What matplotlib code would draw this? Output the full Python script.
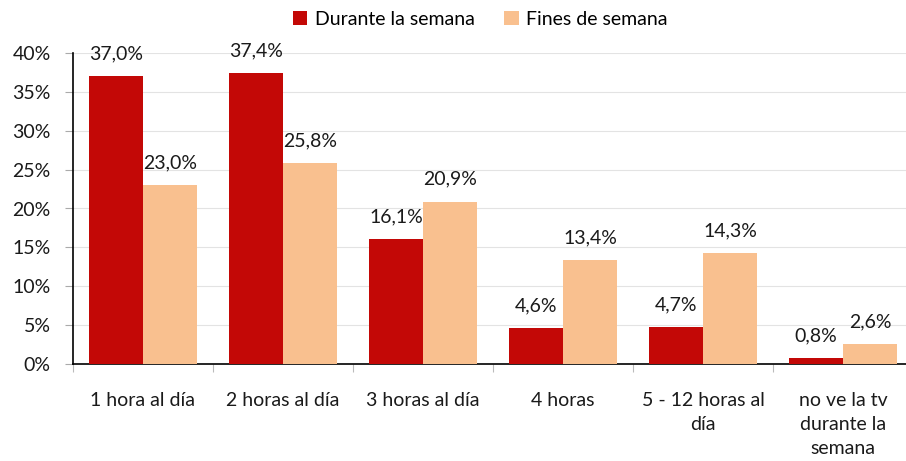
import numpy as np
import matplotlib
matplotlib.use("Agg")
import matplotlib.pyplot as plt

plt.rcParams['font.family'] = ['Lato', 'DejaVu Sans']

categories = ["1 hora al día", "2 horas al día", "3 horas al día", "4 horas",
              "5 - 12 horas al\ndía", "no ve la tv\ndurante la\nsemana"]
semana = [37.0, 37.4, 16.1, 4.6, 4.7, 0.8]
finde = [23.0, 25.8, 20.9, 13.4, 14.3, 2.6]
series_names = ["Durante la semana", "Fines de semana"]

RED = "#c30806"
PEACH = "#f9c08f"
FS = 14

fig = plt.figure(figsize=(9.06, 4.61), dpi=100)
ax = fig.add_axes([73 / 906, 97 / 461, 840 / 906, 311 / 461])

x = np.arange(len(categories))
w = 0.386
b1 = ax.bar(x - w / 2, semana, w, color=RED, label=series_names[0], zorder=3)
b2 = ax.bar(x + w / 2, finde, w, color=PEACH, label=series_names[1], zorder=3)

for bars, vals in ((b1, semana), (b2, finde)):
    for r, v in zip(bars, vals):
        ax.annotate(f"{v:.1f}%".replace(".", ","),
                    (r.get_x() + r.get_width() / 2, v),
                    xytext=(0, 10), textcoords="offset points",
                    ha="center", va="bottom", fontsize=FS, color="#1a1a1a")

ax.set_xlim(-0.5, len(categories) - 0.5)
ax.set_ylim(0, 40)
ax.set_yticks(range(0, 41, 5))
ax.set_yticklabels([f"{t}%" for t in range(0, 41, 5)], fontsize=FS, color="#1a1a1a")
ax.yaxis.grid(True, color="#e3e3e3", linewidth=0.8, zorder=0)
ax.tick_params(axis="y", length=6, color="#aaaaaa", pad=10)

ax.set_xticks(np.arange(len(categories) + 1) - 0.5)
ax.set_xticklabels([])
ax.set_xticks(x, minor=True)
ax.set_xticklabels(categories, minor=True, fontsize=FS, color="#1a1a1a",
                   va="top", linespacing=1.5)
ax.tick_params(axis="x", which="major", length=6, color="#bbbbbb")
ax.tick_params(axis="x", which="minor", length=0, pad=20)

for s in ("top", "right"):
    ax.spines[s].set_visible(False)
ax.spines["left"].set_linewidth(1.2)
ax.spines["bottom"].set_linewidth(1.2)

fig.legend(handles=[b1, b2], labels=series_names, loc="upper center",
           bbox_to_anchor=(0.53, 1.015), ncol=2, frameon=False, fontsize=FS,
           handlelength=0.75, handleheight=0.75, handletextpad=0.4, columnspacing=1.5)

fig.savefig("out.png", dpi=100)
